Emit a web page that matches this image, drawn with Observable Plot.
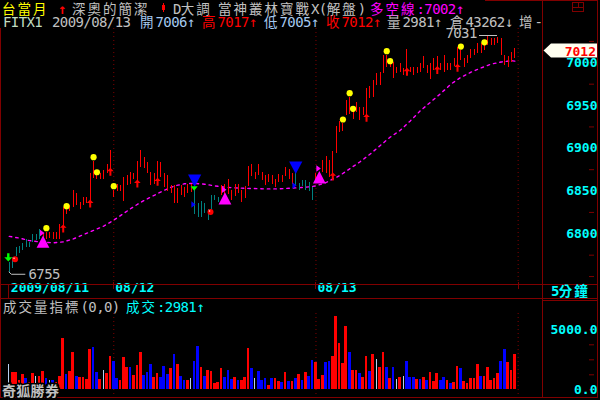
<!DOCTYPE html>
<html><head><meta charset="utf-8">
<script src="https://cdn.jsdelivr.net/npm/d3@7"></script>
<script src="https://cdn.jsdelivr.net/npm/@observablehq/plot@0.6"></script>
<style>
html,body{margin:0;padding:0;background:#000;}
#wrap{position:relative;width:600px;height:400px;background:#000;overflow:hidden;}
#wrap svg{position:absolute;left:0;}
</style></head><body><div id="wrap"></div>
<script>
// ---------- data ----------
const dayTicks = [0, 31, 91];
const dayLabels = ["2009/08/11", "08/12", "08/13"];
const daySeparators = [31, 91, 151];
const priceTicks = [6750, 6775, 6800, 6825, 6850, 6875, 6900, 6925, 6950, 6975, 7000, 7025];
const priceLabels = [6800, 6850, 6900, 6950, 7000];
const volTicks = [0, 1250, 2500, 3750, 5000];
const volLabels = {0: "0.0", 5000: "5000.0"};

const priceHigh = [
 6767,6772,6784,6785,6789,6793,6790,6799,6799,6805,
 6800,6802,6801,6802,6801,6811,6831,6829,6833,6851,
 6847,6837,6843,6842,6871,6885,6872,6871,6874,6881,
 6897,6851,6858,6857,6866,6868,6872,6871,6884,6898,
 6889,6883,6872,6870,6885,6883,6871,6868,6857,6856,
 6853,6856,6854,6858,6858,6851,6835,6838,6835,6828,
 6845,6845,6843,6856,6858,6863,6851,6858,6858,6851,
 6855,6879,6881,6872,6881,6872,6868,6869,6868,6863,
 6869,6868,6877,6875,6870,6870,6859,6862,6862,6860,
 6854,6870,6872,6886,6890,6886,6896,6926,6931,6929,
 6956,6960,6948,6953,6948,6948,6970,6972,6979,6987,
 6989,7008,7009,7001,7000,6995,6999,6993,7016,6995,
 6994,6995,6999,7007,6997,6999,7005,7007,6999,7009,
 6999,6999,7005,7018,7014,7005,7009,7016,7016,7022,
 7022,7024,7031,7029,7029,7030,7029,7008,7007,7012,
 7017];
const priceLow = [
 6755,6760,6774,6777,6780,6784,6784,6790,6792,6793,
 6792,6793,6794,6793,6793,6793,6802,6823,6826,6831,
 6833,6829,6833,6835,6835,6865,6863,6864,6863,6870,
 6868,6843,6850,6849,6838,6856,6858,6863,6858,6878,
 6876,6870,6856,6858,6864,6866,6854,6849,6847,6836,
 6835,6845,6843,6847,6848,6823,6819,6819,6824,6815,
 6829,6839,6837,6845,6841,6846,6839,6844,6847,6837,
 6841,6855,6867,6863,6868,6862,6857,6860,6858,6854,
 6860,6860,6867,6864,6858,6855,6851,6855,6851,6849,
 6839,6860,6862,6872,6870,6866,6863,6894,6919,6920,
 6938,6940,6934,6942,6933,6938,6934,6958,6960,6973,
 6973,6987,6994,6995,6982,6987,6989,6985,6987,6989,
 6985,6987,6989,6993,6987,6981,6991,6989,6991,6989,
 6991,6991,6996,6993,7003,6995,6999,7005,7009,7011,
 7011,7014,7020,7020,7020,7023,7009,6997,6994,7000,
 7005];
// u = red bar, d = teal bar
const barTrend = ("dddddddddd"+"uuuuuuuuuu"+"uuuuuuuuuu"+"uuuuuuuuuu"+"uuuuuuuuuu"+
  "uuuuuddddd"+"ddduuuuuuu"+"uuuuuuuuuu"+"uuuuuddddd"+"duuuuuuuuu"+
  "uuuuuuuuuu"+"uuuuuuuuuu"+"uuuuuuuuuu"+"uuuuuuuuuu"+"uuuuuuuuuu"+"u").split("");

const maIndex = [0,3,6,9,13,16,19,22,25,28,31,34,37,40,43,46,49,52,55,58,61,64,68,72,76,80,84,88,91,94,98,101,104,107,110,113,116,119,122,125,128,131,134,137,140,143,146,149,150];
const maValue = [6797,6795,6792,6790.5,6789.5,6790.5,6794,6799,6804,6809,6816,6824,6832,6839,6845,6851,6856,6858.5,6859,6858,6856,6854.5,6853.5,6853,6852.5,6852.5,6853.5,6854.5,6856,6860,6868,6876,6884,6893,6903,6913,6921,6932,6944,6954,6964,6975,6983,6989,6994,6998.5,7001,7002.5,7002];

const volValue = [
 2083,1417,1417,806,1250,972,611,1333,1083,1083,
 1500,917,750,806,583,1083,4250,1250,1500,3111,
 1139,1000,1000,861,3333,3500,1417,833,1583,1333,
 2750,2333,972,778,2667,1833,1833,1167,2000,3083,
 1167,1417,2083,1000,1361,1000,1917,1250,1750,2917,
 2083,1083,778,778,917,2333,3583,1833,1083,1583,
 1500,500,583,1750,1000,1611,861,1000,778,750,
 1000,3417,1750,917,1500,750,917,333,917,917,
 667,583,1417,667,667,917,1250,750,1417,1083,
 2417,2250,833,1167,2250,2333,2750,6083,3833,2167,
 5250,3083,1583,1583,1333,1000,2750,1500,2917,2500,
 1833,3083,1833,917,1833,833,1000,1083,2333,1000,
 1000,833,833,1000,750,1417,667,1333,750,1000,
 750,500,583,1917,1750,667,500,917,917,2083,
 1083,1083,1833,750,917,1333,2333,3333,2250,1583,
 2981];
// r = red, b = blue, n = neutral
const volColor = ("nrrrrbrrnr"+"rbnbrrrbrr"+"brrrrbbrnr"+"rbbrrrbrrr"+"bbbrrbbbrb"+
  "rbbrnbbrbr"+"rrrrbbbrbr"+"rrbnbbbrbr"+"rbrbrbrbrb"+"brrrbbrrrr"+
  "rbrrbrrbrn"+"rrbrbnrnbb"+"brbrbrrrbb"+"rbrrbrrrrr"+"brrrrrbbrr"+"r").split("");

const yellowIdx = [11,17,25,26,31,99,101,102,112,113,134,141];
const yellowVal = [6806.6,6832.3,6889.6,6872,6855.7,6933.7,6964.5,6946.2,7013.6,7001.9,7019,7024];
const arrowUpIdx = [16,24,30,38,44,96,106,118,127,133];
const arrowUpVal = [6806.3,6835.4,6872.6,6858.8,6861,6867.1,6935.8,6989.4,6991.6,6994.3];
const magTriIdx = [10,64,92];
const magTriVal = [6790.8,6841.4,6866.2];
const blueTriIdx = [55,85];
const blueTriVal = [6862,6877.3];
const bluePenIdx = [55,85];
const bluePenVal = [6834.3,6856.5];
const greenChevIdx = [55];
const greenChevVal = [6853];
const greenArrowIdx = [0];
const greenArrowVal = [6772.6];
const redDotIdx = [2,60];
const redDotVal = [6770.2,6825.5];

const lowMark = {i: 0, v: 6755};
const highMark = {i: 142, v: 7031};
const lastClose = 7012;

// ---------- helpers ----------
const MONO = "DejaVu Sans Mono";
const CJK = "Noto Sans CJK TC";
const pts = (idx, val) => idx.map((i, k) => ({i, v: val[k]}));
const sym = polys => ({draw(ctx, size) {
  const s = Math.sqrt(size / Math.PI);
  for (const poly of polys) {
    poly.forEach(([x, y], j) => j ? ctx.lineTo(x * s, y * s) : ctx.moveTo(x * s, y * s));
    ctx.closePath();
  }
}});
const symArrowUp = sym([[[0,-4],[3.3,-0.6],[-3.3,-0.6]], [[-1,-0.6],[1,-0.6],[1,4],[-1,4]]]);
const symArrowDown = sym([[[-1.2,-4],[1.2,-4],[1.2,0],[-1.2,0]], [[-4,0],[4,0],[0,4.2]]]);
const symTriFlag = sym([[[0,-6.2],[6.4,6.2],[-6.4,6.2]], [[-3,-12],[1.5,-8.7],[-3,-5.4]]]);
const symTriDown = sym([[[-6.6,-6.3],[6.6,-6.3],[0,6.3]]]);
const symPennant = sym([[[-3.3,-3.3],[0.9,0],[-3.3,3.3]]]);
const symChevron = sym([[[-3.6,-2.2],[3.6,-2.2],[0,2.2]]]);

const bars = priceHigh.map((h, i) => ({i, hi: h, lo: priceLow[i], t: barTrend[i]}));
const ma = pts(maIndex, maValue);
const vol = volValue.map((v, i) => ({i, v, c: volColor[i]}));
const volFill = {r: "#ff0000", b: "#0000ff", n: "#b8d0f0"};

const X = {domain: [0, 151], range: [8.8, 517.67], axis: null};

// ---------- price panel ----------
const pricePlot = Plot.plot({
  width: 600, height: 300,
  marginLeft: 0, marginRight: 58, marginTop: 28, marginBottom: 16,
  style: {background: "transparent", overflow: "visible"},
  color: {type: "identity"},
  x: X,
  y: {domain: [6800, 7000], range: [233.3, 62.3]},
  marks: [
    Plot.ruleX(daySeparators, {x: d => d, stroke: "#800000", strokeDasharray: "1,3"}),
    Plot.line(ma, {x: "i", y: "v", stroke: "#ff00ff", strokeWidth: 1.4, strokeDasharray: "2.5,4"}),
    Plot.ruleX(bars, {x: "i", y1: "lo", y2: "hi", stroke: d => d.t === "u" ? "#ff0000" : "#008080", strokeWidth: 1, shapeRendering: "crispEdges"}),
    Plot.dot(pts(yellowIdx, yellowVal), {x: "i", y: "v", r: 3.1, fill: "#ffff00", stroke: "none"}),
    Plot.dot(pts(arrowUpIdx, arrowUpVal), {x: "i", y: "v", r: 1, symbol: symArrowUp, fill: "#ff0000", stroke: "none"}),
    Plot.dot(pts(magTriIdx, magTriVal), {x: "i", y: "v", r: 1, symbol: symTriFlag, fill: "#ff00ff", stroke: "none"}),
    Plot.dot(pts(blueTriIdx, blueTriVal), {x: "i", y: "v", r: 1, symbol: symTriDown, fill: "#0000ff", stroke: "none"}),
    Plot.dot(pts(bluePenIdx, bluePenVal), {x: "i", y: "v", r: 1, symbol: symPennant, fill: "#0000ff", stroke: "none"}),
    Plot.dot(pts(greenChevIdx, greenChevVal), {x: "i", y: "v", r: 1, symbol: symChevron, fill: "#00ff00", stroke: "none", dx: -0.5}),
    Plot.dot(pts(greenArrowIdx, greenArrowVal), {x: "i", y: "v", r: 1, symbol: symArrowDown, fill: "#00ff00", stroke: "none", dx: -1}),
    Plot.dot(pts(redDotIdx, redDotVal), {x: "i", y: "v", r: 3, fill: "#ff0000", stroke: "none", dx: -1}),
    Plot.dot(pts(redDotIdx, redDotVal), {x: "i", y: "v", r: 0.8, fill: "#ffd0d0", stroke: "none", dx: -2, dy: -1}),
    Plot.axisY(priceTicks, {anchor: "right", tickSize: 5, stroke: "#800000", fill: "#00ffff",
      tickFormat: d => priceLabels.includes(d) ? String(d) : "", textAnchor: "end", dx: 46,
      fontFamily: MONO, fontSize: 13, fontWeight: "bold", label: null}),
    Plot.text(dayTicks, {x: d => d, text: (d, k) => dayLabels[k], frameAnchor: "bottom", dy: 7.5, dx: 1.5,
      textAnchor: "start", fill: "#00ffff", fontFamily: MONO, fontSize: 13, fontWeight: "bold"})
  ]
});

// ---------- volume panel ----------
const volPlot = Plot.plot({
  width: 600, height: 100,
  marginLeft: 0, marginRight: 58, marginTop: 15, marginBottom: 1,
  style: {background: "transparent", overflow: "visible"},
  color: {type: "identity"},
  x: X,
  y: {domain: [0, 5000], range: [91.3, 31.3]},
  marks: [
    Plot.ruleX(daySeparators, {x: d => d, stroke: "#800000", strokeDasharray: "1,3"}),
    Plot.rect(vol, {x1: d => d.i - (d.c === "n" ? 0.15 : 0.4), x2: d => d.i + (d.c === "n" ? 0.15 : 0.4),
      y1: d => 0, y2: "v", fill: d => volFill[d.c], inset: 0, shapeRendering: "crispEdges"}),
    Plot.axisY(volTicks, {anchor: "right", tickSize: 5, stroke: "#800000", fill: "#00ffff",
      tickFormat: d => volLabels[d] ?? "", textAnchor: "end", dx: 46,
      fontFamily: MONO, fontSize: 13, fontWeight: "bold", label: null})
  ]
});

const wrap = document.getElementById("wrap");
pricePlot.style.top = "0px";
volPlot.style.top = "298px";
wrap.appendChild(pricePlot);
wrap.appendChild(volPlot);

// ---------- overlay: frame and texts ----------
const xs = pricePlot.scale("x"), ys = pricePlot.scale("y");
const sx = v => xs.apply(v), sy = v => ys.apply(v);
const svg = d3.create("svg").attr("width", 600).attr("height", 400)
  .style("top", "0px").style("pointer-events", "none");
const FR = "#800000";
const line = (x1, y1, x2, y2, c = FR) => svg.append("line").attr("x1", x1).attr("y1", y1)
  .attr("x2", x2).attr("y2", y2).attr("stroke", c).attr("stroke-width", 1).attr("shape-rendering", "crispEdges");
line(0.5, 28, 0.5, 398);
line(542.5, 0, 542.5, 398);
line(597.5, 0, 597.5, 398);
line(485, 0.5, 598, 0.5);
line(0, 284.5, 598, 284.5);
line(0, 298.5, 598, 298.5);
line(542, 300.5, 598, 300.5);
line(0, 397.5, 598, 397.5);
line(8.5, 284, 8.5, 299);
for (const d of daySeparators) line(Math.round(sx(d)) + 0.5, 282, Math.round(sx(d)) + 0.5, 289);
// window icon top right
svg.append("rect").attr("x", 572.5).attr("y", 2.5).attr("width", 11).attr("height", 9)
  .attr("fill", "none").attr("stroke", FR).attr("shape-rendering", "crispEdges");
line(572, 7.5, 584, 7.5); line(578.5, 2, 578.5, 7.5);
// red candle icon in header
line(163.5, 3, 163.5, 12, "#ff0000");
svg.append("rect").attr("x", 162).attr("y", 5).attr("width", 3).attr("height", 5).attr("fill", "#ff0000");

const CJK_RE = /[\u2E80-\u9FFF\uF900-\uFAFF\uFF00-\uFFEF]/;
function rich(x, y, runs, o = {}) {
  const t = svg.append("text").attr("x", x).attr("y", y)
    .attr("font-weight", o.weight || "normal");
  if (o.outline) t.attr("stroke", "#000").attr("stroke-width", 3).attr("paint-order", "stroke");
  for (const [str, color] of runs) {
    const parts = str.match(/[\u2E80-\u9FFF\uF900-\uFAFF\uFF00-\uFFEF]+|[^\u2E80-\u9FFF\uF900-\uFAFF\uFF00-\uFFEF]+/g);
    for (const p of parts) {
      const c = CJK_RE.test(p);
      t.append("tspan").attr("fill", color)
        .attr("font-family", c ? CJK : MONO)
        .attr("font-size", c ? (o.cjk || 13.5) : (o.mono || 14))
        .attr("letter-spacing", c ? (o.cjkLs ?? 2) : (o.monoLs ?? -0.6))
        .text(p);
    }
  }
  return t;
}
// header row 1
rich(2, 13.5, [["台當月", "#ffff00"]]);
rich(58, 13.5, [["↑", "#ff0000"]], {weight: "bold"});
rich(72, 13.5, [["深奧的簡潔", "#c0c0c0"]]);
rich(173, 13.5, [["D大調", "#c0c0c0"]]);
rich(218, 13.5, [["當神叢林寶戰X(解盤)", "#c0c0c0"]]);
rich(370, 13.5, [["多空線:7002↑", "#ff00ff"]]);
// header row 2
rich(3, 27.3, [["FITX1", "#c0dcc0"]]);
rich(52, 27.3, [["2009/08/13", "#c0c0c0"]]);
rich(140, 27.3, [["開7006↑", "#a6caf0"]]);
rich(202, 27.3, [["高7017↑", "#ff0000"]]);
rich(264, 27.3, [["低7005↑", "#a6caf0"]]);
rich(326, 27.3, [["收7012↑", "#ff0000"]]);
rich(387, 27.3, [["量2981↑", "#c0c0c0"]]);
rich(450, 27.3, [["倉43262↓", "#c0c0c0"]]);
rich(519, 27.3, [["增-", "#c0c0c0"]]);
// high / low annotations
rich(sx(highMark.i) - 10.6, sy(highMark.v) + 2.5, [[String(highMark.v), "#c0c0c0"]]).attr("text-anchor", "end");
line(sx(highMark.i) - 8, sy(highMark.v) - 0.5, sx(highMark.i) + 10, sy(highMark.v) - 0.5, "#c0c0c0");
rich(sx(lowMark.i) + 19.7, sy(lowMark.v) + 7.2, [[String(lowMark.v), "#c0c0c0"]]);
svg.append("path").attr("fill", "none").attr("stroke", "#c0c0c0")
  .attr("d", `M${sx(lowMark.i)},${sy(lowMark.v)} l2.5,2.5 l14,0`);
// last close flag on axis
const fy = sy(lastClose) - 1.5;
svg.append("path").attr("fill", "#fffff0")
  .attr("d", `M543.5,${fy} L551,${fy - 7} L597,${fy - 7} L597,${fy + 7} L551,${fy + 7} Z`);
rich(596, fy + 5, [[String(lastClose), "#ff0000"]], {weight: "bold", mono: 13, monoLs: 0}).attr("text-anchor", "end");
// date row right
rich(551, 296, [["5分鐘", "#00ffff"]], {weight: "bold"});
// volume header
rich(3, 311.5, [["成交量指標(0,0)", "#c0c0c0"]]);
rich(126, 311.5, [["成交:2981↑", "#00ffff"]]);
// broker name
rich(2, 395.5, [["奇狐勝券", "#c0c0c0"]], {weight: "bold", cjk: 14, cjkLs: 0.3, outline: true});

wrap.appendChild(svg.node());
</script></body></html>
